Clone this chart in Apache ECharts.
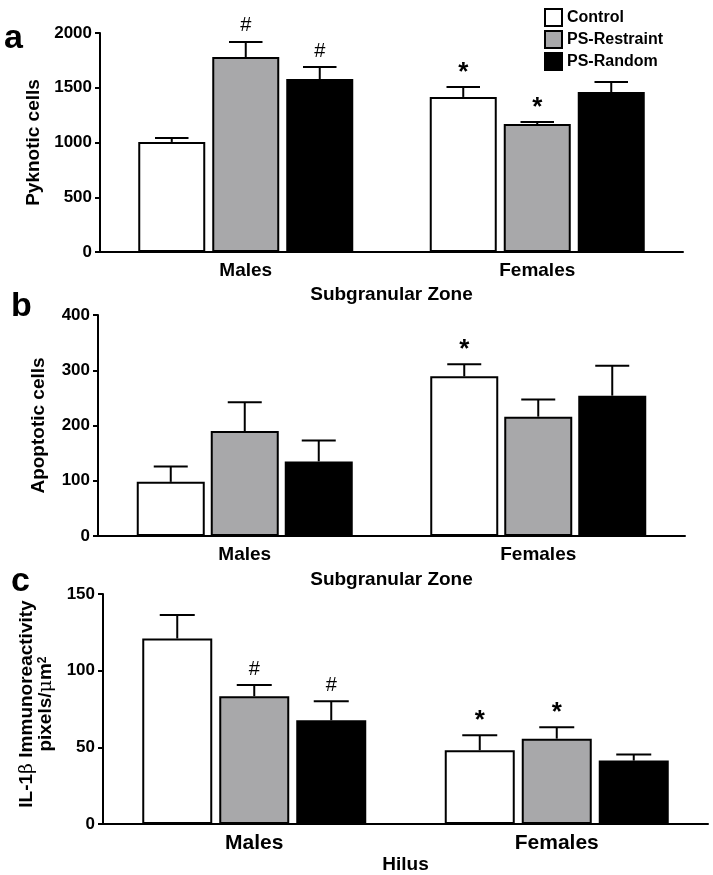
<!DOCTYPE html>
<html>
<head>
<meta charset="utf-8">
<script src="https://cdn.jsdelivr.net/npm/echarts@6/dist/echarts.min.js"></script>
<style>
html,body{margin:0;padding:0;background:#fff;}
#chart{width:713px;height:875px;}
</style>
</head>
<body>
<div id="chart"></div>
<script>
// ---------- DATA ----------
const categories = ['Males', 'Females'];
const seriesNames = ['Control', 'PS-Restraint', 'PS-Random'];

// Panel a: Pyknotic cells (Subgranular Zone)
const aControl = [1005, 1416];
const aControlErr = [36, 91];
const aRestraint = [1781, 1169];
const aRestraintErr = [137, 18];
const aRandom = [1580, 1461];
const aRandomErr = [109, 92];
const aControlSig = ['', '*'];
const aRestraintSig = ['#', '*'];
const aRandomSig = ['#', ''];
const aTicks = [0, 500, 1000, 1500, 2000];

// Panel b: Apoptotic cells (Subgranular Zone)
const bControl = [98, 289];
const bControlErr = [28, 22];
const bRestraint = [190, 216];
const bRestraintErr = [52, 31];
const bRandom = [135, 254];
const bRandomErr = [38, 54];
const bControlSig = ['', '*'];
const bRestraintSig = ['', ''];
const bRandomSig = ['', ''];
const bTicks = [0, 100, 200, 300, 400];

// Panel c: IL-1β Immunoreactivity (Hilus)
const cControl = [121, 48.2];
const cControlErr = [15.3, 9.7];
const cRestraint = [83.4, 55.7];
const cRestraintErr = [7.2, 7.5];
const cRandom = [67.7, 41.4];
const cRandomErr = [12.4, 4.0];
const cControlSig = ['', '*'];
const cRestraintSig = ['#', '*'];
const cRandomSig = ['#', ''];
const cTicks = [0, 50, 100, 150];

// ---------- STYLE ----------
const FONT = '"Liberation Sans", Arial, sans-serif';
const colors = ['#ffffff', '#a8a8aa', '#000000'];

const panels = [
  { vals: [aControl, aRestraint, aRandom], errs: [aControlErr, aRestraintErr, aRandomErr],
    sigs: [aControlSig, aRestraintSig, aRandomSig], ticks: aTicks,
    grid: { left: 100, right: 30, top: 33, height: 219 }, barW: 67, gap: 7,
    yName: 'Pyknotic cells', xName: 'Subgranular Zone', catSize: 19, xNameGap: 33, yNameGap: 52, yPad: [0, 0, 0, 0], ySize: 19 },
  { vals: [bControl, bRestraint, bRandom], errs: [bControlErr, bRestraintErr, bRandomErr],
    sigs: [bControlSig, bRestraintSig, bRandomSig], ticks: bTicks,
    grid: { left: 98, right: 28, top: 315, height: 221 }, barW: 68, gap: 6,
    yName: 'Apoptotic cells', xName: 'Subgranular Zone', catSize: 19, xNameGap: 34, yNameGap: 50, yPad: [0, 0, 0, 0], ySize: 19 },
  { vals: [cControl, cRestraint, cRandom], errs: [cControlErr, cRestraintErr, cRandomErr],
    sigs: [cControlSig, cRestraintSig, cRandomSig], ticks: cTicks,
    grid: { left: 103, right: 5, top: 594, height: 233 }, barW: 70, gap: 7,
    yName: 'IL-1{beta|β} Immunoreactivity\npixels/{mu|μ}m{sup|2}', xName: 'Hilus', catSize: 21, xNameGap: 25, yNameGap: 45, yPad: [0, 0, 0, 10], ySize: 19 }
];

const grids = [], xAxes = [], yAxes = [], series = [];

panels.forEach((p, pi) => {
  grids.push(p.grid);
  xAxes.push({
    type: 'category', gridIndex: pi, data: categories,
    axisLine: { lineStyle: { color: '#000', width: 2 } },
    axisTick: { show: false },
    axisLabel: { color: '#000', fontFamily: FONT, fontWeight: 'bold', fontSize: p.catSize, margin: 9 },
    name: p.xName, nameLocation: 'middle', nameGap: p.xNameGap,
    nameTextStyle: { color: '#000', fontFamily: FONT, fontWeight: 'bold', fontSize: 19 }
  });
  const tmin = p.ticks[0], tmax = p.ticks[p.ticks.length - 1];
  yAxes.push({
    type: 'value', gridIndex: pi, min: tmin, max: tmax, interval: p.ticks[1] - p.ticks[0],
    splitLine: { show: false },
    axisLine: { show: true, lineStyle: { color: '#000', width: 2 } },
    axisTick: { show: true, length: 5, lineStyle: { color: '#000', width: 2 } },
    axisLabel: { color: '#000', fontFamily: FONT, fontWeight: 'bold', fontSize: 17, margin: 8,
                 formatter: function (v) { return String(v); } },
    name: p.yName, nameLocation: 'middle', nameGap: p.yNameGap,
    nameTextStyle: {
      color: '#000', fontFamily: FONT, fontWeight: 'bold', fontSize: p.ySize, lineHeight: 19,
      padding: p.yPad,
      rich: {
        beta: { fontFamily: '"DejaVu Serif", serif', fontWeight: 'normal', fontSize: 19, color: '#000' },
        mu: { fontFamily: '"DejaVu Serif", serif', fontWeight: 'normal', fontSize: 19, color: '#000' },
        sup: { fontFamily: FONT, fontWeight: 'bold', fontSize: 12, verticalAlign: 'top', padding: [0, 0, 10, 0], color: '#000' }
      }
    }
  });
  p.vals.forEach((v, k) => {
    series.push({
      type: 'bar', name: seriesNames[k], xAxisIndex: pi, yAxisIndex: pi,
      data: v, barWidth: p.barW, barGap: (p.gap / p.barW * 100) + '%',
      itemStyle: { color: colors[k], borderColor: '#000', borderWidth: 2 },
      silent: true
    });
  });
  p.vals.forEach((v, k) => {
    const data = v.map((val, i) => [i, val, p.errs[k][i], p.sigs[k][i]]);
    const offset = (k - 1) * (p.barW + p.gap);
    const capHalf = p.barW / 4;
    series.push({
      type: 'custom', xAxisIndex: pi, yAxisIndex: pi, z: 5, silent: true,
      data: data,
      renderItem: function (params, api) {
        const idx = params.dataIndex;
        const cx = api.coord([api.value(0), 0])[0] + offset;
        const val = api.value(1), err = api.value(2);
        const yTop = api.coord([api.value(0), val])[1];
        const yErr = api.coord([api.value(0), val + err])[1];
        const sig = data[idx][3];
        const children = [
          { type: 'line', shape: { x1: cx, y1: yTop, x2: cx, y2: yErr }, style: { stroke: '#000', lineWidth: 2 } },
          { type: 'line', shape: { x1: cx - capHalf, y1: yErr, x2: cx + capHalf, y2: yErr }, style: { stroke: '#000', lineWidth: 2 } }
        ];
        if (sig) {
          children.push({
            type: 'text',
            style: {
              text: sig, x: cx, y: yErr - (sig === '*' ? 1 : 6),
              align: 'center', verticalAlign: 'bottom',
              font: (sig === '*' ? 'bold 26px ' : '20px ') + FONT, fill: '#000'
            }
          });
        }
        return { type: 'group', children: children };
      }
    });
  });
});

const chart = echarts.init(document.getElementById('chart'), null, { renderer: 'canvas' });
chart.setOption({
  animation: false,
  backgroundColor: '#fff',
  grid: grids, xAxis: xAxes, yAxis: yAxes, series: series,
  legend: {
    data: seriesNames, orient: 'vertical', left: 539, top: 3,
    itemWidth: 17, itemHeight: 17, itemGap: 3, icon: 'rect',
    textStyle: { color: '#000', fontFamily: FONT, fontWeight: 'bold', fontSize: 16, padding: [0, 0, 0, 0] },
    selectedMode: false
  },
  graphic: [
    { type: 'text', left: 4, top: 22, style: { text: 'a', font: 'bold 34px ' + FONT, fill: '#000' } },
    { type: 'text', left: 11, top: 290, style: { text: 'b', font: 'bold 34px ' + FONT, fill: '#000' } },
    { type: 'text', left: 11, top: 565, style: { text: 'c', font: 'bold 34px ' + FONT, fill: '#000' } }
  ]
});
</script>
</body>
</html>
